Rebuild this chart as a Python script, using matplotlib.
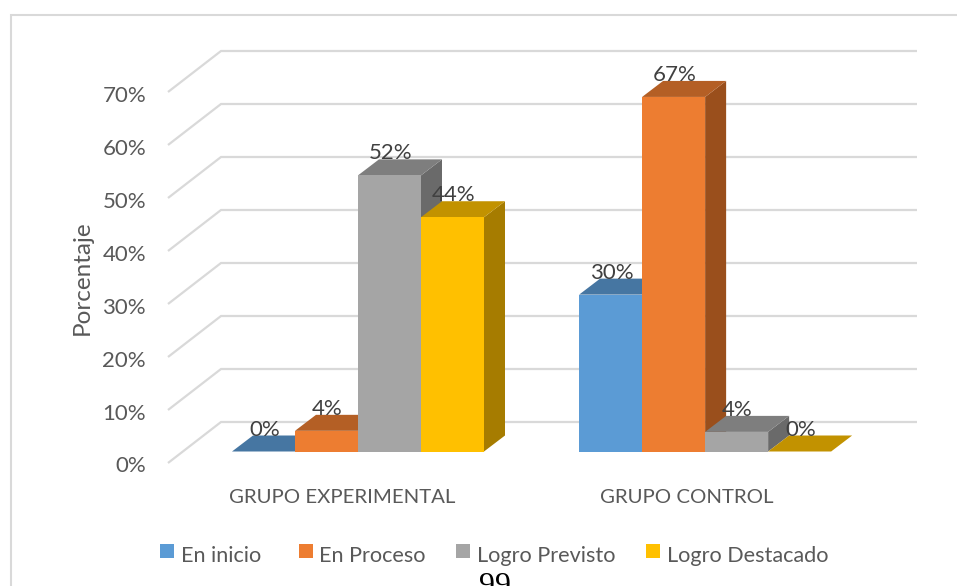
import matplotlib
matplotlib.use("Agg")
import matplotlib.pyplot as plt
from matplotlib.patches import Polygon, Rectangle

# ---- data ----
categories = ["GRUPO EXPERIMENTAL", "GRUPO CONTROL"]
series_names = ["En inicio", "En Proceso", "Logro Previsto", "Logro Destacado"]
en_inicio = [0, 29.6]
en_proceso = [3.9, 66.9]
logro_previsto = [52.1, 3.7]
logro_destacado = [44.2, 0]
y_ticks = [0, 10, 20, 30, 40, 50, 60, 70]

all_series = [en_inicio, en_proceso, logro_previsto, logro_destacado]

# ---- styles ----
W, H = 957, 586
PX_PER_PCT = 5.3
PX_PER_BAR = 63.0
Y0_PX = 463.0
X0_PX = 358.0           # centre of first group
GROUP_STEP = 5.51       # bar widths between groups
front = ["#5B9BD5", "#ED7D31", "#A5A5A5", "#FFC000"]
top = ["#4676A2", "#B45F25", "#7E7E7E", "#C29200"]
side = ["#3A6690", "#9A4F1C", "#6A6A6A", "#A67C00"]
TEXT = "#595959"
LABEL = "#404040"
GRID = "#D9D9D9"

# depth geometry, in axis units (bar widths, percent)
WALL_DX, WALL_DY = 53 / PX_PER_BAR, 41 / PX_PER_PCT
BAR_OFF_DY = 11.5 / PX_PER_PCT
BAR_DX, BAR_DY = 21 / PX_PER_BAR, 16 / PX_PER_PCT
LEFT = -(X0_PX - 168) / PX_PER_BAR      # left edge of the front plane
WALL_LEN = (917 - 221) / PX_PER_BAR

plt.rcParams["font.family"] = ["Lato", "DejaVu Sans"]
FS = 16


def fx(px):
    return px / W


def fy(px):
    return 1 - px / H


fig = plt.figure(figsize=(W / 100, H / 100), dpi=100)
ax = fig.add_axes([0, 0, 1, 1])
ax.set_xlim(-X0_PX / PX_PER_BAR, (W - X0_PX) / PX_PER_BAR)
ax.set_ylim((Y0_PX - H) / PX_PER_PCT, Y0_PX / PX_PER_PCT)
ax.axis("off")

# outer frame: only the top and left edges show in the picture
ax.plot([fx(10.5), fx(10.5), 1], [0, fy(15), fy(15)], transform=ax.transAxes,
        color=GRID, lw=1.5, zorder=0, solid_joinstyle="miter")

# wall gridlines and side diagonals
for t in y_ticks:
    ax.plot([LEFT, LEFT + WALL_DX, LEFT + WALL_DX + WALL_LEN],
            [t, t + WALL_DY, t + WALL_DY], color=GRID, lw=1.6, zorder=1,
            solid_joinstyle="miter", solid_capstyle="butt")
    ax.text(LEFT - 22 / PX_PER_BAR, t - 1.5 / PX_PER_PCT, f"{t}%", ha="right",
            va="center_baseline", fontsize=FS, color=TEXT, zorder=5)

# bars
for g in range(len(categories)):
    gx = g * GROUP_STEP
    for s, vals in enumerate(all_series):
        v = vals[g]
        xl = gx + s - 2
        xr = xl + 1
        yb = BAR_OFF_DY
        yt = BAR_OFF_DY + v
        z = 3 + g * 10 + s
        ax.add_patch(Polygon([(xr, yb), (xr + BAR_DX, yb + BAR_DY),
                              (xr + BAR_DX, yt + BAR_DY), (xr, yt)],
                             fc=side[s], ec="none", zorder=z))
        ax.add_patch(Polygon([(xl, yt), (xl + BAR_DX, yt + BAR_DY),
                              (xr + BAR_DX, yt + BAR_DY), (xr, yt)],
                             fc=top[s], ec="none", zorder=z))
        ax.add_patch(Rectangle((xl, yb), 1, v, fc=front[s], ec="none", zorder=z))

# data labels (drawn above every bar)
for g in range(len(categories)):
    gx = g * GROUP_STEP
    for s, vals in enumerate(all_series):
        v = vals[g]
        xc = gx + s - 1.5 + 1 / PX_PER_BAR
        ax.text(xc, BAR_OFF_DY + v + BAR_DY + 8 / PX_PER_PCT, f"{v:.0f}%", ha="center",
                va="center_baseline", fontsize=FS, color=LABEL, zorder=40)

# category labels
for g, name in enumerate(categories):
    ax.text(g * GROUP_STEP - (16 + 2.5 * g) / PX_PER_BAR, (Y0_PX - 496) / PX_PER_PCT, name,
            ha="center", va="center_baseline", fontsize=14.7, color=TEXT, zorder=5)

# y axis title
ax.text(-(X0_PX - 82) / PX_PER_BAR, (Y0_PX - 278) / PX_PER_PCT, "Porcentaje",
        rotation=90, ha="center", va="center", fontsize=17.5, color=TEXT, zorder=5)

# legend (swatch left edge, text left edge, in pixels)
legend_swatch_px = [160, 299, 456, 646]
legend_text_px = [181, 319, 477, 667]
for c, n, sx, tx in zip(front, series_names, legend_swatch_px, legend_text_px):
    ax.add_patch(Rectangle((fx(sx), fy(558)), 14 / W, 14 / H, transform=ax.transAxes,
                           fc=c, ec="none", zorder=5))
    ax.text(fx(tx), fy(554), n, transform=ax.transAxes, ha="left",
            va="center_baseline", fontsize=15.6, color=TEXT, zorder=5)

# page number of the scanned document, cut off by the image edge
ax.text(fx(494.5), fy(587), "99", transform=ax.transAxes, ha="center",
        va="center", fontsize=23, color="black", family="Liberation Serif",
        clip_on=True, zorder=50)

fig.savefig("out.png", dpi=100)
